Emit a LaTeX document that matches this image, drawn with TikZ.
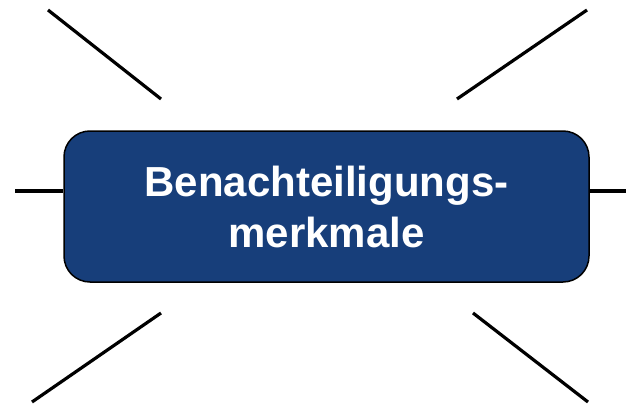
\documentclass[tikz,border=0pt]{standalone}
\usepackage{fontspec}
\setmainfont{Liberation Sans}
\definecolor{boxblue}{RGB}{23,62,122}
\begin{document}
\begin{tikzpicture}[x=1pt,y=-1pt,
  ray/.style={line width=3.2pt,black},
  mainbox/.style={draw=black,line width=1.5pt,fill=boxblue,rounded corners=26pt,
    minimum width=525pt,minimum height=151pt,text=white,align=center,
    font=\fontsize{42}{51}\selectfont\bfseries,inner sep=0pt}]
\useasboundingbox (0,0) rectangle (626,404);
\node[mainbox] (box) at (326.5,206.5) {Benachteiligungs-\\merkmale};
\coordinate (tl1) at (48,10);   \coordinate (tl2) at (161,99);
\coordinate (tr1) at (587,10);  \coordinate (tr2) at (457,99);
\coordinate (bl1) at (32,402);  \coordinate (bl2) at (161,313);
\coordinate (br1) at (588,402); \coordinate (br2) at (473,313);
\coordinate (lft) at (15,191);  \coordinate (rgt) at (626,191);
\draw[ray] (tl1) -- (tl2);
\draw[ray] (tr1) -- (tr2);
\draw[ray] (bl1) -- (bl2);
\draw[ray] (br1) -- (br2);
\draw[ray] (lft) -- (lft -| box.west);
\draw[ray] (rgt) -- (rgt -| box.east);
\end{tikzpicture}
\end{document}
